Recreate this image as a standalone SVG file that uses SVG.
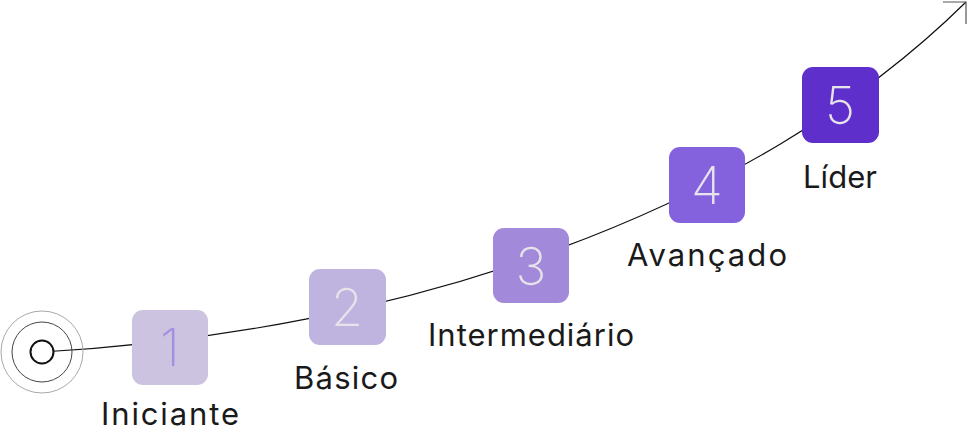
<svg xmlns="http://www.w3.org/2000/svg" width="968" height="430" viewBox="0 0 968 430">
<style>
.box{stroke:none}
.num{font-family:Inter,"Noto Sans",sans-serif;font-weight:200;font-size:52px;text-anchor:middle;fill:#e6e4ea}
.lbl{font-family:Inter,"Noto Sans",sans-serif;font-weight:400;font-size:31px;text-anchor:middle;fill:#1a1a1a}
</style>
<rect width="968" height="430" fill="#ffffff"/>
<g id="connectors">
<path d="M42,352 C400,332 750,215 966,2" fill="none" stroke="#111" stroke-width="1.2"/>
<path d="M943,2 H966 V24" fill="none" stroke="#555" stroke-width="1.2"/>
</g>
<g id="start">
<circle cx="42" cy="352" r="41" fill="none" stroke="#aaa" stroke-width="1"/>
<circle cx="42" cy="352" r="30" fill="none" stroke="#444" stroke-width="1"/>
<circle cx="42" cy="352" r="11.5" fill="#fff" stroke="#111" stroke-width="2"/>
</g>
<g id="n1">
<rect class="box" x="132" y="310" width="76" height="75" rx="11" fill="#cbc3e0"/>
<text class="num" x="170" y="366" style="fill:#a48ee0">1</text>
<text class="lbl" x="170" y="425" textLength="138" lengthAdjust="spacing">Iniciante</text>
</g>
<g id="n2">
<rect class="box" x="309" y="269" width="77" height="76" rx="11" fill="#bfb3e0"/>
<text class="num" x="347" y="326">2</text>
<text class="lbl" x="346" y="389" textLength="104" lengthAdjust="spacing">Básico</text>
</g>
<g id="n3">
<rect class="box" x="493" y="228" width="76" height="75" rx="11" fill="#a389d9"/>
<text class="num" x="531" y="285">3</text>
<text class="lbl" x="531" y="346" textLength="206" lengthAdjust="spacing">Intermediário</text>
</g>
<g id="n4">
<rect class="box" x="669" y="147" width="76" height="76" rx="11" fill="#8562dd"/>
<text class="num" x="707" y="204">4</text>
<text class="lbl" x="707" y="266" textLength="160" lengthAdjust="spacing">Avançado</text>
</g>
<g id="n5">
<rect class="box" x="802" y="67" width="77" height="76" rx="11" fill="#5f2fcb"/>
<text class="num" x="840" y="124">5</text>
<text class="lbl" x="840" y="188" textLength="74" lengthAdjust="spacing">Líder</text>
</g>
</svg>
